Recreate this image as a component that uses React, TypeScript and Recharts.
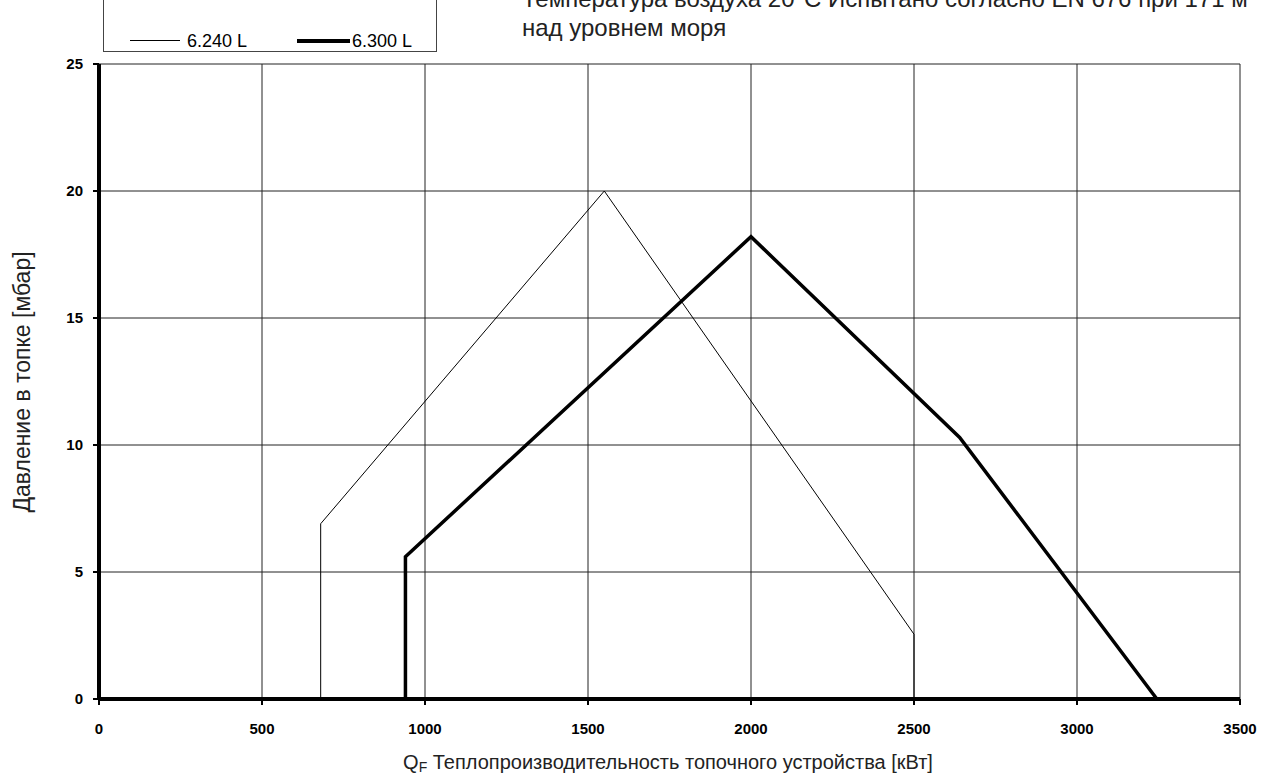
import React from "react";
import { LineChart, Line, XAxis, YAxis, CartesianGrid } from "recharts";

const font = "'Liberation Sans', Arial, sans-serif";

// Heat output [kW] and furnace pressure [mbar]
const thinX = [680, 680, 1550, 2500, 2500];
const thinY = [0, 6.9, 20, 2.55, 0];
const thickX = [940, 940, 2000, 2640, 3245];
const thickY = [0, 5.6, 18.2, 10.3, 0];

const xTicks = [0, 500, 1000, 1500, 2000, 2500, 3000, 3500];
const yTicks = [0, 5, 10, 15, 20, 25];

const seriesNames = ["6.240 L", "6.300 L"];

const thin = thinX.map((x, i) => ({ x, y: thinY[i] }));
const thick = thickX.map((x, i) => ({ x, y: thickY[i] }));

const tickStyle = { fontSize: 15, fontWeight: "bold", fill: "#000", fontFamily: font };

export default function App() {
  return (
    <div style={{ position: "absolute", left: 0, top: 0, width: 1273, height: 781, background: "#fff", fontFamily: font, overflow: "hidden" }}>
      <LineChart width={1273} height={781} margin={{ top: 64, right: 33, left: 39, bottom: 52 }}>
        <CartesianGrid stroke="#222" strokeWidth={1} />
        <XAxis
          dataKey="x"
          type="number"
          domain={[0, 3500]}
          ticks={xTicks}
          height={30}
          tick={tickStyle}
          tickSize={6}
          tickMargin={18}
          axisLine={{ stroke: "#000", strokeWidth: 4 }}
          tickLine={{ stroke: "#000", strokeWidth: 2 }}
        />
        <YAxis
          type="number"
          domain={[0, 25]}
          ticks={yTicks}
          width={60}
          tick={tickStyle}
          tickSize={6}
          tickMargin={10}
          axisLine={{ stroke: "#000", strokeWidth: 4 }}
          tickLine={{ stroke: "#000", strokeWidth: 2 }}
        />
        <Line data={thin} dataKey="y" name={seriesNames[0]} stroke="#000" strokeWidth={1} dot={false} isAnimationActive={false} />
        <Line data={thick} dataKey="y" name={seriesNames[1]} stroke="#000" strokeWidth={3.5} dot={false} isAnimationActive={false} />
      </LineChart>

      {/* legend box, cut off at the top like the original */}
      <div style={{ position: "absolute", left: 103, top: -10, width: 334, height: 62, border: "1px solid #444", boxSizing: "border-box" }} />
      <div style={{ position: "absolute", left: 130, top: 40, width: 50, height: 1, background: "#000" }} />
      <div style={{ position: "absolute", left: 187, top: 31, fontSize: 18, lineHeight: "20px", color: "#000" }}>{seriesNames[0]}</div>
      <div style={{ position: "absolute", left: 297, top: 39, width: 53, height: 4, background: "#000" }} />
      <div style={{ position: "absolute", left: 352, top: 31, fontSize: 18, lineHeight: "20px", color: "#000" }}>{seriesNames[1]}</div>

      {/* note at top right, first line cut off like the original */}
      <div style={{ position: "absolute", left: 522, top: -16, fontSize: 24, lineHeight: "29px", color: "#222", whiteSpace: "nowrap" }}>
        Температура воздуха 20°C Испытано согласно EN 676 при 171 м
        <br />
        над уровнем моря
      </div>

      {/* axis titles */}
      <div style={{ position: "absolute", left: 22, top: 382, transform: "translate(-50%, -50%) rotate(-90deg)", fontSize: 23, color: "#222", whiteSpace: "nowrap" }}>
        Давление в топке [мбар]
      </div>
      <div style={{ position: "absolute", left: 668, top: 763, transform: "translate(-50%, -50%)", fontSize: 20, color: "#222", whiteSpace: "nowrap" }}>
        Q<sub style={{ fontSize: 14, verticalAlign: "-3px" }}>F</sub> Теплопроизводительность топочного устройства [кВт]
      </div>
    </div>
  );
}
